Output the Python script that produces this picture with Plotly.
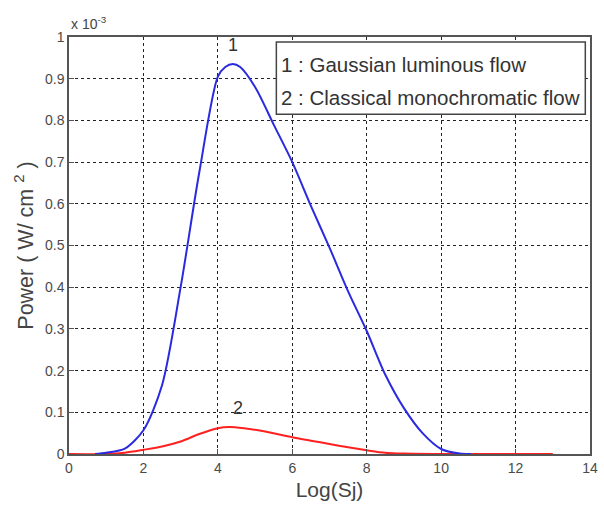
import plotly.graph_objects as go

# Data (power in units of 1e-3 W/cm^2)
x_blue = [0.7, 1.0, 1.5, 2.0, 2.5, 3.0, 3.5, 4.0, 4.2, 4.4, 4.6, 5.0, 5.5, 6.0, 6.5, 7.0, 7.5, 8.0, 8.5, 9.0, 9.5, 10.0, 10.5, 10.8]
y_blue = [0.0, 0.003, 0.013, 0.057, 0.165, 0.40, 0.675, 0.905, 0.928, 0.935, 0.928, 0.88, 0.79, 0.70, 0.595, 0.495, 0.39, 0.295, 0.19, 0.11, 0.05, 0.012, 0.001, 0.0]

x_red = [0.0, 1.0, 1.5, 2.0, 2.5, 3.0, 3.5, 4.0, 4.3, 4.7, 5.2, 6.0, 6.5, 7.0, 7.5, 8.0, 8.5, 9.0, 10.0, 11.0, 12.0, 13.0]
y_red = [0.0, 0.0, 0.003, 0.01, 0.018, 0.03, 0.048, 0.062, 0.065, 0.062, 0.055, 0.040, 0.032, 0.024, 0.016, 0.009, 0.003, 0.001, 0.0, 0.0, 0.0, 0.0]

x_ticks = [0, 2, 4, 6, 8, 10, 12, 14]
y_ticks = [0, 0.1, 0.2, 0.3, 0.4, 0.5, 0.6, 0.7, 0.8, 0.9, 1.0]
y_tick_labels = ["0", "0.1", "0.2", "0.3", "0.4", "0.5", "0.6", "0.7", "0.8", "0.9", "1"]
legend_lines = ["1 :\u00a0Gaussian luminous flow", "2 :\u00a0Classical monochromatic flow"]

FONT = "Arial, Liberation Sans, sans-serif"

fig = go.Figure()
fig.add_trace(go.Scatter(x=x_red, y=y_red, mode="lines",
                         line=dict(color="#ff2020", width=2, shape="spline", smoothing=0.8),
                         showlegend=False, hoverinfo="skip"))
fig.add_trace(go.Scatter(x=x_blue, y=y_blue, mode="lines",
                         line=dict(color="#2a2ae0", width=2, shape="spline", smoothing=0.8),
                         showlegend=False, hoverinfo="skip"))

font_tick = dict(family=FONT, size=14, color="#4a4a4a")

axis_common = dict(showgrid=True, gridcolor="#222222", griddash="dot", gridwidth=1,
                   showline=True, linecolor="#555555", linewidth=1.5, mirror=True,
                   ticks="inside", ticklen=5, tickcolor="#555555",
                   zeroline=False, tickfont=font_tick)

fig.update_xaxes(range=[0, 14], tickvals=x_ticks, **axis_common,
                 title=dict(text="Log(Sj)", font=dict(family=FONT, size=21, color="#444444"), standoff=8))
fig.update_yaxes(range=[0, 1], tickvals=y_ticks, ticktext=y_tick_labels, **axis_common,
                 title=dict(text="Power ( W/ cm <sup>2</sup> )", font=dict(family=FONT, size=21.5, color="#444444"), standoff=5))

ann = []
ann.append(dict(x=0, y=1, xref="paper", yref="paper", xanchor="left", yanchor="bottom",
                text="x 10<sup>-3</sup>", showarrow=False, yshift=3,
                font=dict(family=FONT, size=14, color="#444444")))
ann.append(dict(x=4.4, y=0.935, text="1", showarrow=False, yshift=19,
                font=dict(family=FONT, size=18, color="#333333")))
ann.append(dict(x=4.55, y=0.065, text="2", showarrow=False, yshift=19,
                font=dict(family=FONT, size=18, color="#333333")))
for i, t in enumerate(legend_lines):
    ann.append(dict(x=0.404, y=0.935 - i * 0.08, xref="paper", yref="paper",
                    xanchor="left", yanchor="middle", text=t, showarrow=False,
                    font=dict(family=FONT, size=20.5, color="#333333")))

fig.update_layout(
    width=604, height=508,
    margin=dict(l=69, r=6, t=37, b=54),
    paper_bgcolor="white", plot_bgcolor="white",
    annotations=ann,
    shapes=[dict(type="rect", xref="paper", yref="paper", x0=0.398, x1=0.991, y0=0.815, y1=0.988,
                 line=dict(color="#444444", width=1.5), fillcolor="white", layer="above")],
)

fig.write_html("out.html")
